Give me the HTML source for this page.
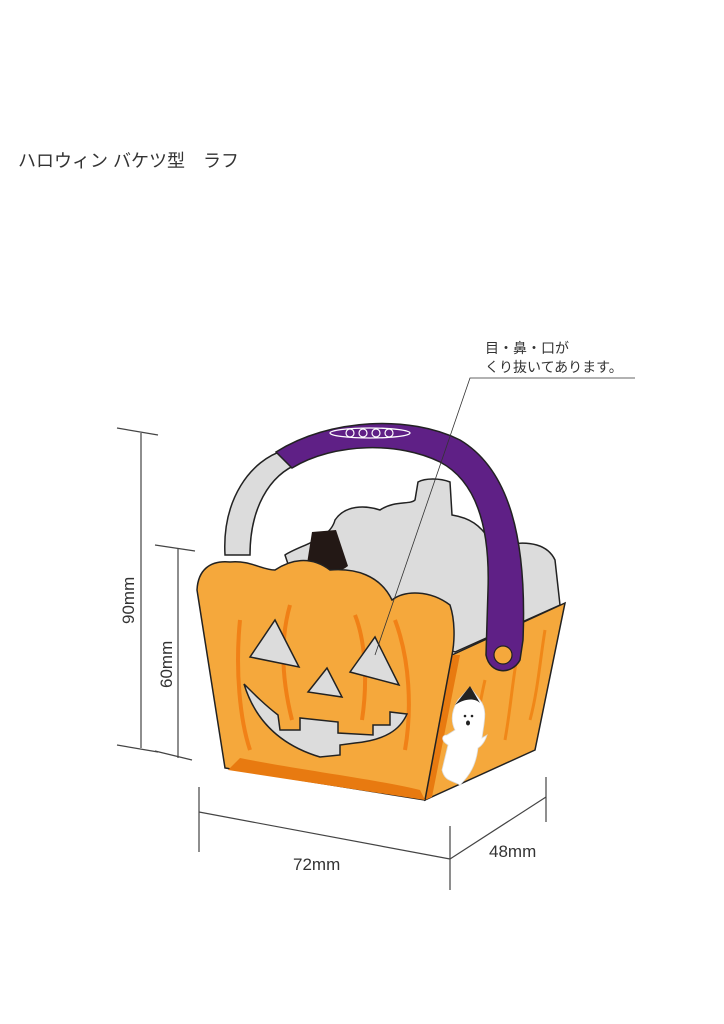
<!DOCTYPE html>
<html><head><meta charset="utf-8"><style>
html,body{margin:0;padding:0;background:#fff;width:724px;height:1024px;overflow:hidden}
svg{display:block}
text{font-family:"Liberation Sans","Noto Sans CJK JP",sans-serif;fill:#333}
</style></head><body>
<svg width="724" height="1024" viewBox="0 0 724 1024" xmlns="http://www.w3.org/2000/svg">
<text x="18" y="167" font-size="18">ハロウィン バケツ型　ラフ</text>

<g stroke="#444" stroke-width="1.2" fill="none">
<line x1="141" y1="433" x2="141" y2="748"/>
<line x1="117" y1="428" x2="158" y2="435"/>
<line x1="117" y1="745" x2="158" y2="752"/>
<line x1="178" y1="549" x2="178" y2="758"/>
<line x1="155" y1="545" x2="195" y2="551"/>
<line x1="155" y1="751" x2="192" y2="760"/>
<line x1="199" y1="787" x2="199" y2="852"/>
<line x1="199" y1="812" x2="450" y2="859"/>
<line x1="450" y1="826" x2="450" y2="890"/>
<line x1="450" y1="859" x2="546" y2="797"/>
<line x1="546" y1="777" x2="546" y2="822"/>
</g>
<text x="0" y="0" font-size="17" transform="translate(134,624) rotate(-90)">90mm</text>
<text x="0" y="0" font-size="17" transform="translate(172,688) rotate(-90)">60mm</text>
<text x="293" y="870" font-size="17">72mm</text>
<text x="489" y="857" font-size="17">48mm</text>

<path d="M225,555 C222,500 250,460 285,450 L300,463 C268,475 250,510 250,555 Z" fill="#dcdcdc" stroke="#222" stroke-width="1.5"/>
<path d="M285,555 C300,545 330,540 335,520 C345,505 365,505 380,510 C395,500 410,505 415,500 L418,482 C425,478 440,478 450,482 L452,515 C470,518 480,525 490,540 L505,545 C530,540 548,545 555,560 L560,605 L455,652 L300,600 Z" fill="#dcdcdc" stroke="#222" stroke-width="1.5"/>
<path d="M306,570 L312,532 L336,530 L348,566 C335,576 318,576 306,570 Z" fill="#231815"/>

<path d="M452,655 L565,603 L535,750 L425,800 Z" fill="#f5a83c" stroke="#222" stroke-width="1.5"/>
<path d="M452,655 L460,655 L432,797 L425,800 Z" fill="#e87a10"/>
<g stroke="#f08010" stroke-width="3" fill="none" opacity="0.8">
<path d="M485,680 C478,710 476,730 470,760"/>
<path d="M520,640 C512,680 512,700 505,740"/>
<path d="M545,630 C540,660 538,690 530,720"/>
</g>

<path d="M197,590 C198,570 210,560 230,562 C250,560 262,570 275,570 C290,560 310,555 330,570 C355,568 380,575 392,600 C405,590 430,590 450,605 C455,620 455,640 452,655 L425,800 L225,768 Z" fill="#f5a83c" stroke="#222" stroke-width="1.5"/>
<path d="M228,770 L425,800 L420,790 C380,780 300,770 240,758 Z" fill="#e87a10"/>
<g stroke="#f07a10" stroke-width="4" fill="none" opacity="0.85">
<path d="M240,620 C235,670 240,720 250,750"/>
<path d="M290,605 C280,640 282,680 292,720"/>
<path d="M355,615 C365,640 368,680 362,720"/>
<path d="M395,620 C410,660 412,710 405,750"/>
</g>
<g fill="#dcdcdc" stroke="#222" stroke-width="1.5">
<path d="M250,657 L275,620 L299,667 Z"/>
<path d="M350,672 L375,637 L399,685 Z"/>
<path d="M308,692 L327,668 L342,697 Z"/>
<path d="M244,684 C255,720 280,745 320,757 L340,755 L340,745 L355,743 C385,740 400,730 407,714 L390,712 L390,725 L373,725 L373,735 L338,733 L338,722 L300,718 L300,730 L280,730 L278,715 C265,705 255,695 244,684 Z"/>
</g>

<path d="M276,452 C330,418 410,415 460,440 C510,470 527,540 523,640 L520,660 C512,675 490,675 486,655 L488,590 C490,530 478,482 440,462 C400,442 335,442 292,468 Z" fill="#5f2086" stroke="#222" stroke-width="1.5"/>
<circle cx="503" cy="655" r="9" fill="#f5a83c" stroke="#222" stroke-width="1.2"/>
<ellipse cx="370" cy="433" rx="40" ry="5" fill="none" stroke="#fff" stroke-width="1.3"/>
<g fill="none" stroke="#fff" stroke-width="1.2">
<circle cx="350" cy="433" r="4"/><circle cx="363" cy="433" r="4"/><circle cx="376" cy="433" r="4"/><circle cx="389" cy="433" r="4"/>
</g>

<path d="M458,700 L470,687 L480,700 C488,710 484,722 482,738 L487,735 C484,745 478,748 478,748 C476,765 470,775 460,785 C452,780 445,782 442,770 L448,745 C440,740 442,735 447,735 L455,730 C450,720 452,710 458,700 Z" fill="#fff" stroke="#ddd" stroke-width="0.8"/>
<path d="M455,705 L470,686 L480,703 C475,698 465,698 455,705 Z" fill="#222"/>
<circle cx="465" cy="716" r="1.3" fill="#222"/><circle cx="472" cy="716" r="1.3" fill="#222"/>
<ellipse cx="468" cy="723" rx="2" ry="2.5" fill="#222"/>

<polyline points="375,655 470,378 635,378" fill="none" stroke="#333" stroke-width="0.8"/>
<text x="485" y="353" font-size="14">目・鼻・口が</text>
<text x="485" y="372" font-size="14">くり抜いてあります。</text>
</svg>
</body></html>
